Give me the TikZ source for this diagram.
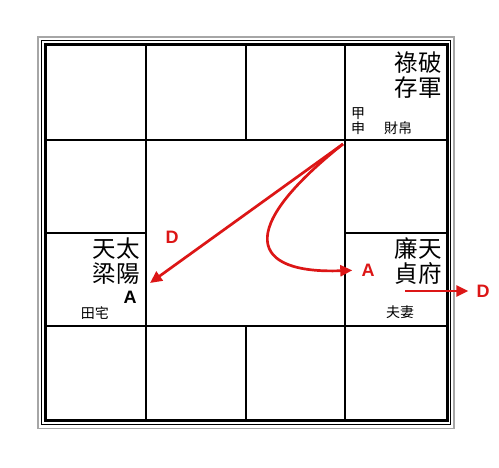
\documentclass[tikz,border=0pt]{standalone}
\usepackage{fontspec}
\usetikzlibrary{arrows.meta}
\newfontfamily\cjk{Noto Sans CJK TC}
\newfontfamily\arial{Liberation Sans}
\definecolor{flyred}{RGB}{220,22,22}

\begin{document}
\begin{tikzpicture}[x=1pt, y=-1pt,
  every node/.style={inner sep=0pt},
  star/.style={font=\cjk\fontsize{23.5}{25}\selectfont, align=center},
  palace/.style={font=\cjk\fontsize{14}{15}\selectfont, align=center},
  letter/.style={font=\arial\bfseries\fontsize{18}{20}\selectfont},
  flyline/.style={draw=flyred, line width=2.7pt, -{Triangle[length=12pt,width=11pt]}},
  gridline/.style={line width=2.4pt}]

  \useasboundingbox (0,0) rectangle (499,467);

  %%%%%%%%%%%%%%%%%%%%%%%%%%%%%%
  % Frame and palace grid      %
  %%%%%%%%%%%%%%%%%%%%%%%%%%%%%%
  \draw[gray!70, line width=1.4pt] (38,37) rectangle (454,428.5);
  \draw[line width=1.1pt] (41.5,40.5) rectangle (450.5,424.5);
  \draw[line width=3pt] (45,44) rectangle (447,420);
  \foreach \x in {146,345}
    \draw[gridline] (\x,44) -- (\x,420);
  \foreach \y in {140,326}
    \draw[gridline] (45,\y) -- (447,\y);
  \draw[gridline] (246,44) -- (246,140);
  \draw[gridline] (246,326) -- (246,420);
  \draw[gridline] (45,233) -- (146,233);
  \draw[gridline] (345,233) -- (447,233);

  %%%%%%%%%%%%%%%%%%%%%%%%%%%%%%
  % Stars and palace names     %
  %%%%%%%%%%%%%%%%%%%%%%%%%%%%%%
  % Top right: 財帛
  \node[star] (pojun) at (418,75) {祿破\\存軍};
  \node[palace] (jiashen) at (358,121) {甲\\申};
  \node[palace] (caibo) at (398,128) {財帛};
  % Left: 田宅
  \node[star] (taiyang) at (116,261) {天太\\梁陽};
  \node[letter] (taiyangA) at (130,297) {A};
  \node[palace] (tianzhai) at (95,313) {田宅};
  % Right: 夫妻
  \node[star] (tianfu) at (418,261) {廉天\\貞府};
  \node[palace] (fuqi) at (400,312) {夫妻};

  %%%%%%%%%%%%%%%%%%%%%%%%%%%%%%
  % Flying arrows              %
  %%%%%%%%%%%%%%%%%%%%%%%%%%%%%%
  \node[letter, flyred] (leftD) at (172,237) {D};
  \node[letter, flyred] (redA) at (368,270) {A};
  \node[letter, flyred] (redD) at (483,291) {D};
  \coordinate (src) at (343,144);
  \coordinate (dTip) at (150,283);
  \coordinate (dStart) at (405,291);

  \draw[flyline] (src) -- (dTip);
  \draw[flyline, shorten >=9pt] (src) .. controls (235,230) and (250,274) .. (redA.west);
  \draw[flyline, shorten >=8pt] (dStart) -- (redD.west);

\end{tikzpicture}
\end{document}
